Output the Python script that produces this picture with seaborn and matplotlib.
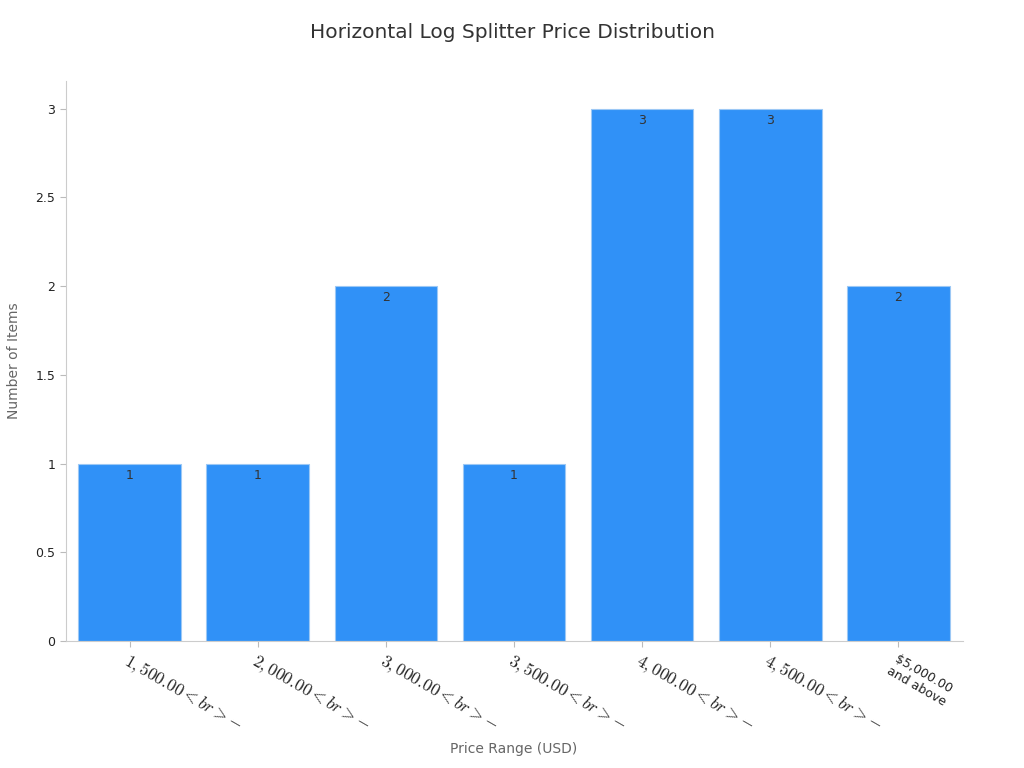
import seaborn as sns
import matplotlib.pyplot as plt
import pandas as pd

price_ranges = ["$1,500.00<br>-$", "$2,000.00<br>-$", "$3,000.00<br>-$",
                "$3,500.00<br>-$", "$4,000.00<br>-$", "$4,500.00<br>-$",
                "$5,000.00\nand above"]
counts = [1, 1, 2, 1, 3, 3, 2]

df = pd.DataFrame({"range": price_ranges, "count": counts})

sns.set_style("white")
plt.rcParams["mathtext.fontset"] = "cm"

fig, ax = plt.subplots(figsize=(10.24, 7.68), dpi=100)
fig.subplots_adjust(left=0.064, right=0.94, top=0.895, bottom=0.165)

sns.barplot(data=df, x="range", y="count", color="#3091F7", saturation=1,
            edgecolor="#9cc8f5", linewidth=0.8, width=0.8, ax=ax)

for i, v in enumerate(counts):
    ax.text(i, v - 0.03, str(v), ha="center", va="top", fontsize=9, color="#333333")

ax.set_xlim(-0.5, 6.5)
ax.set_ylim(0, 3.157)
ax.set_yticks([0, 0.5, 1, 1.5, 2, 2.5, 3])
ax.set_yticklabels(["0", "0.5", "1", "1.5", "2", "2.5", "3"])
ax.set_xticks(range(len(price_ranges)))
ax.set_xticklabels(price_ranges, rotation=-30, ha="left", rotation_mode="anchor")
ax.tick_params(axis="both", length=4, color="#bbbbbb", labelsize=9, labelcolor="#222222", bottom=True, left=True)
for lbl in ax.get_xticklabels():
    if "<br>" in lbl.get_text():
        lbl.set_fontsize(12.5)
    else:
        lbl.set_fontsize(9)
        lbl.set_multialignment("center")

for s in ["top", "right"]:
    ax.spines[s].set_visible(False)
for s in ["left", "bottom"]:
    ax.spines[s].set_color("#cccccc")
    ax.spines[s].set_linewidth(0.8)

ax.set_xlabel("Price Range (USD)", fontsize=10, color="#666666", va="center")
ax.set_ylabel("Number of Items", fontsize=10, color="#666666", va="center")
ax.xaxis.set_label_coords(0.5, -0.193)
ax.yaxis.set_label_coords(-0.057, 0.5)
fig.suptitle("Horizontal Log Splitter Price Distribution", fontsize=14.5, color="#333333", y=0.97)

plt.savefig("out.png", dpi=100)
